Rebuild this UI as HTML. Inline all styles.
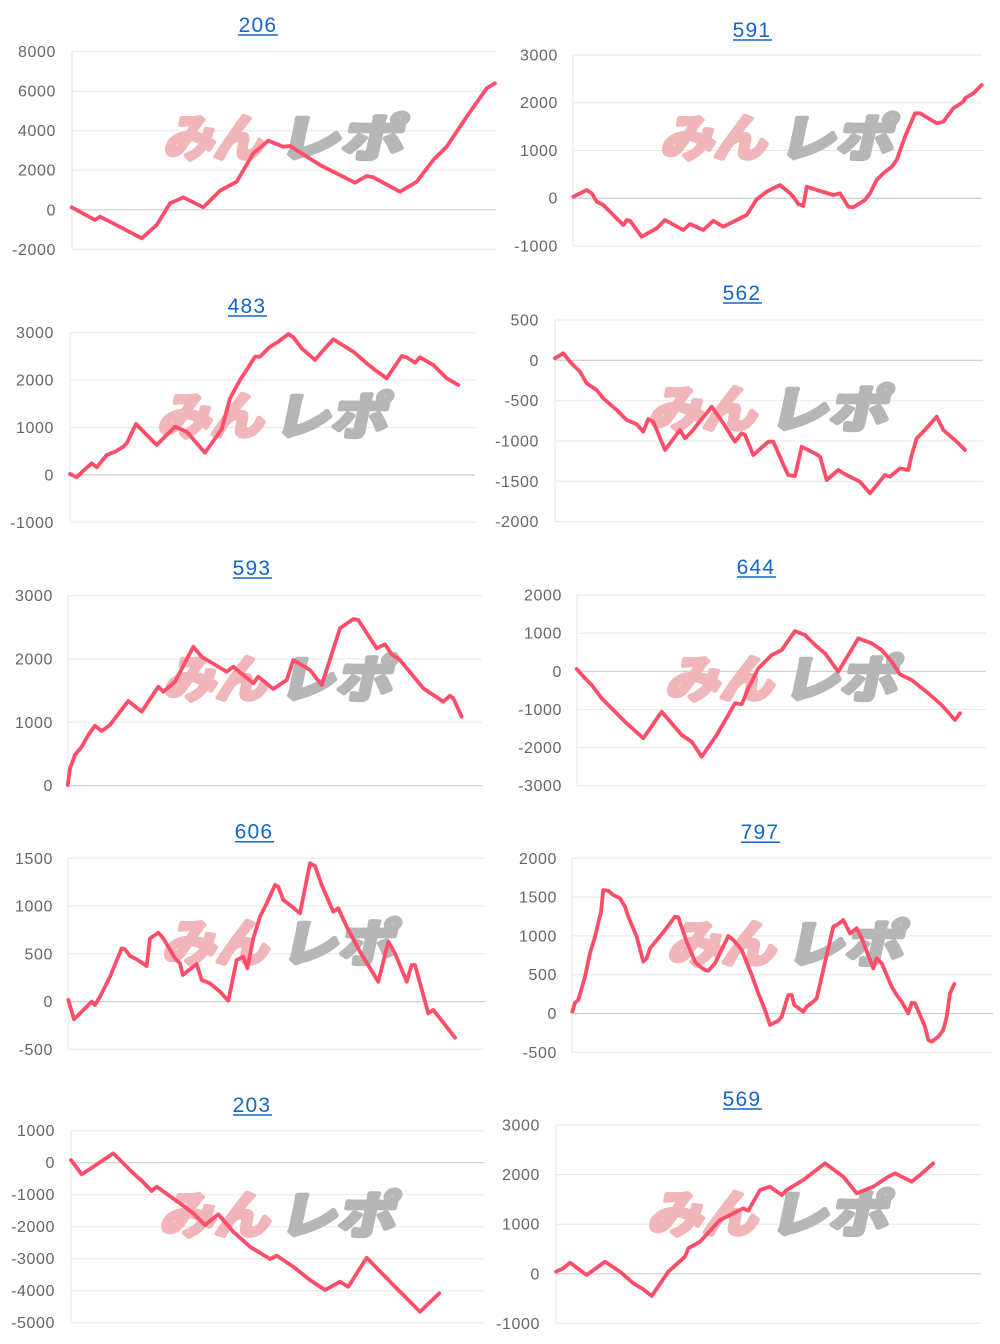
<!DOCTYPE html>
<html>
<head>
<meta charset="utf-8">
<style>
html,body{margin:0;padding:0;background:#fff;}
svg{display:block;}
.t{font-family:"Liberation Sans",Arial,sans-serif;font-size:16px;fill:#666;text-anchor:end;letter-spacing:0.6px;}
.h{font-family:"Liberation Sans",Arial,sans-serif;font-size:21px;fill:#1466c9;text-anchor:middle;letter-spacing:1.2px;}
.g{stroke:#e8e8e8;stroke-width:1;}
.z{stroke:#cdcdcd;stroke-width:1.2;}
.ax{stroke:#e4e4e4;stroke-width:1;}
.ul{stroke:#1466c9;stroke-width:1.5;}
.s{fill:none;stroke:#ff4d6a;stroke-width:3.8;stroke-linejoin:round;stroke-linecap:round;}
.wp{font-family:"Liberation Sans","Noto Sans CJK JP",sans-serif;font-weight:bold;font-size:50px;fill:#f0b6b9;stroke:#f0b6b9;stroke-width:4.5;stroke-linejoin:round;}
.wg{font-family:"Liberation Sans","Noto Sans CJK JP",sans-serif;font-weight:bold;font-size:50px;fill:#b6b6b6;stroke:#b6b6b6;stroke-width:4.5;stroke-linejoin:round;}
</style>
</head>
<body>
<svg width="1000" height="1344" viewBox="0 0 1000 1344" xmlns="http://www.w3.org/2000/svg">
<rect width="1000" height="1344" fill="#fff"/>

<!-- ===== Chart 1 : 206 ===== -->
<g>
<text class="h" x="258" y="32">206</text><line class="ul" x1="238" y1="35" x2="278" y2="35"/>
<line class="g" x1="72" y1="51.7" x2="496" y2="51.7"/>
<line class="g" x1="72" y1="91.2" x2="496" y2="91.2"/>
<line class="g" x1="72" y1="130.7" x2="496" y2="130.7"/>
<line class="g" x1="72" y1="170.2" x2="496" y2="170.2"/>
<line class="z" x1="72" y1="209.8" x2="496" y2="209.8"/>
<line class="g" x1="72" y1="249.3" x2="496" y2="249.3"/>
<line class="ax" x1="72" y1="51.7" x2="72" y2="249.3"/>
<text class="t" x="56" y="57.2">8000</text>
<text class="t" x="56" y="96.7">6000</text>
<text class="t" x="56" y="136.2">4000</text>
<text class="t" x="56" y="175.7">2000</text>
<text class="t" x="56" y="215.3">0</text>
<text class="t" x="56" y="254.8">-2000</text>
<g transform="translate(163,156) skewX(-12)"><text class="wp" x="0" y="0" textLength="100" lengthAdjust="spacingAndGlyphs">みん</text><text class="wg" x="114" y="0" textLength="126" lengthAdjust="spacingAndGlyphs">レポ</text></g>
<polyline class="s" points="71.7,207.3 95,220 100,216.7 110,221.7 141.7,238.3 156.7,225 170,203.3 183.3,197.3 203.3,207.3 220,190.7 236.7,181.7 253.3,153.3 268.3,140.7 283.3,146.7 290,146 320,165 355,182.7 366.7,176 373.3,177.3 400,191.7 416.7,181.7 433.3,160 446.7,146.7 466.7,116.7 486.7,88.3 495,83.3"/>
</g>

<!-- ===== Chart 2 : 591 ===== -->
<g>
<text class="h" x="752" y="37">591</text><line class="ul" x1="733" y1="40" x2="772" y2="40"/>
<line class="g" x1="573" y1="55" x2="982" y2="55"/>
<line class="g" x1="573" y1="102.75" x2="982" y2="102.75"/>
<line class="g" x1="573" y1="150.5" x2="982" y2="150.5"/>
<line class="z" x1="573" y1="198.25" x2="982" y2="198.25"/>
<line class="g" x1="573" y1="246" x2="982" y2="246"/>
<line class="ax" x1="573" y1="55" x2="573" y2="246"/>
<text class="t" x="558" y="60.5">3000</text>
<text class="t" x="558" y="108.2">2000</text>
<text class="t" x="558" y="156">1000</text>
<text class="t" x="558" y="203.7">0</text>
<text class="t" x="558" y="251.5">-1000</text>
<g transform="translate(660,156) skewX(-12)"><text class="wp" x="0" y="0" textLength="106" lengthAdjust="spacingAndGlyphs">みん</text><text class="wg" x="118" y="0" textLength="115" lengthAdjust="spacingAndGlyphs">レポ</text></g>
<polyline class="s" points="573.3,196.7 586.7,190 591.7,193.3 596.7,201.7 603.3,205 610,211.7 623.3,225 626.7,220 630,220.7 641.7,236.7 656.7,228.3 665,220 683.3,230 690,224 703.3,230 713.3,220.7 723.3,226.7 733.3,221.7 746.7,215 756.7,199.3 766.7,191.7 780,185 790,193.3 793.3,196.7 798.3,204 803.3,206 806.7,186.7 816.7,190 833.3,195 840,193.3 848.3,206.7 853.3,207.3 865,200 870,193.3 876.7,180 883.3,173.3 891.7,166.7 896.7,160 905,136.7 915,113.3 920,113.3 936.7,123.3 943.3,121.7 953.3,108.3 963.3,101.7 965,98.3 973.3,93.3 981.7,85"/>
</g>

<!-- ===== Chart 3 : 483 ===== -->
<g>
<text class="h" x="247" y="313">483</text><line class="ul" x1="228" y1="316" x2="267" y2="316"/>
<line class="g" x1="70" y1="332.7" x2="475" y2="332.7"/>
<line class="g" x1="70" y1="380.1" x2="475" y2="380.1"/>
<line class="g" x1="70" y1="427.5" x2="475" y2="427.5"/>
<line class="z" x1="70" y1="474.9" x2="475" y2="474.9"/>
<line class="g" x1="70" y1="522.3" x2="475" y2="522.3"/>
<line class="ax" x1="70" y1="332.7" x2="70" y2="522.3"/>
<text class="t" x="54" y="338.2">3000</text>
<text class="t" x="54" y="385.6">2000</text>
<text class="t" x="54" y="433">1000</text>
<text class="t" x="54" y="480.4">0</text>
<text class="t" x="54" y="527.8">-1000</text>
<g transform="translate(157,434) skewX(-12)"><text class="wp" x="0" y="0" textLength="106" lengthAdjust="spacingAndGlyphs">みん</text><text class="wg" x="116" y="0" textLength="114" lengthAdjust="spacingAndGlyphs">レポ</text></g>
<polyline class="s" points="70,474 76.7,477.3 85,469.3 91.7,463.3 96.7,467.3 106.7,455 115,451.7 123.3,446.7 126.7,443.3 136,424 156.7,445 175,426.7 186.7,431.7 205,452.7 221.7,429.3 230,398.3 240,380 248.3,367.3 255,356.7 260,356.7 270,346.7 278.3,341.7 288.3,334 293.3,337.3 301.7,348.3 315,360 325,348.3 333.3,339.3 353.3,351.7 366.7,363.3 375,370 386.7,378.3 401.7,356 406.7,357.3 415,362.7 420,357.3 433.3,365 446.7,378.3 458.3,385"/>
</g>

<!-- ===== Chart 4 : 562 ===== -->
<g>
<text class="h" x="742" y="300">562</text><line class="ul" x1="723" y1="303" x2="762" y2="303"/>
<line class="g" x1="555" y1="320" x2="983" y2="320"/>
<line class="z" x1="555" y1="360.3" x2="983" y2="360.3"/>
<line class="g" x1="555" y1="400.7" x2="983" y2="400.7"/>
<line class="g" x1="555" y1="441" x2="983" y2="441"/>
<line class="g" x1="555" y1="481.3" x2="983" y2="481.3"/>
<line class="g" x1="555" y1="521.7" x2="983" y2="521.7"/>
<line class="ax" x1="555" y1="320" x2="555" y2="521.7"/>
<text class="t" x="539" y="325.5">500</text>
<text class="t" x="539" y="365.8">0</text>
<text class="t" x="539" y="406.2">-500</text>
<text class="t" x="539" y="446.5">-1000</text>
<text class="t" x="539" y="486.8">-1500</text>
<text class="t" x="539" y="527.2">-2000</text>
<g transform="translate(648,427) skewX(-12)"><text class="wp" x="0" y="0" textLength="108" lengthAdjust="spacingAndGlyphs">みん</text><text class="wg" x="120" y="0" textLength="120" lengthAdjust="spacingAndGlyphs">レポ</text></g>
<polyline class="s" points="555,358.3 563.3,353.3 570,361.7 580,371.7 586.7,383.3 596.7,390 603.3,398.3 616.7,410 626.7,420 636.7,424.3 643.3,431.7 648.3,419 653.3,421.7 665,450 680,430 685,438.3 691.7,431.7 711.7,406.7 723.3,423.3 735,441.7 741.7,433.3 745,435 753.3,455 768.3,441.7 773.3,441.7 785,468.3 788.3,475 795,476 801.7,446.7 816.7,454.3 820,456.7 826.7,480 838.3,470 843.3,473.3 860,481.7 870,493.3 885,475 890,476.7 900,468.3 908.3,470 911.7,455 916.7,438.3 923.3,431.7 936.7,416.7 943.3,430 956.7,441.7 965,450"/>
</g>

<!-- ===== Chart 5 : 593 ===== -->
<g>
<text class="h" x="252" y="575">593</text><line class="ul" x1="233" y1="578" x2="272" y2="578"/>
<line class="g" x1="68" y1="595.7" x2="482" y2="595.7"/>
<line class="g" x1="68" y1="659" x2="482" y2="659"/>
<line class="g" x1="68" y1="722.3" x2="482" y2="722.3"/>
<line class="z" x1="68" y1="785.7" x2="482" y2="785.7"/>
<line class="ax" x1="68" y1="595.7" x2="68" y2="785.7"/>
<text class="t" x="53" y="601.2">3000</text>
<text class="t" x="53" y="664.5">2000</text>
<text class="t" x="53" y="727.8">1000</text>
<text class="t" x="53" y="791.2">0</text>
<g transform="translate(163,697) skewX(-12)"><text class="wp" x="0" y="0" textLength="104" lengthAdjust="spacingAndGlyphs">みん</text><text class="wg" x="115" y="0" textLength="114" lengthAdjust="spacingAndGlyphs">レポ</text></g>
<polyline class="s" points="67.7,785 70,768.3 75,755 81.7,746.7 88.3,735 95,725.7 101.7,731 110,725 120,711.7 128.3,701 141.7,711.7 158.3,686.7 163.3,691.7 175,681.7 193.3,646.7 201.7,656.7 226.7,671.7 233.3,666.7 253.3,683.3 258.3,676.7 273.3,689 286.7,680 293.3,660 310,670 321.7,685 340,628.3 353.3,619 358.3,620 376.7,648.3 385,644.3 391.7,654.3 400,660 423.3,688.3 433.3,695 443.3,701.7 450,695.7 453.3,698.3 461.7,716.7"/>
</g>

<!-- ===== Chart 6 : 644 ===== -->
<g>
<text class="h" x="756" y="574">644</text><line class="ul" x1="737" y1="577" x2="776" y2="577"/>
<line class="g" x1="577" y1="595" x2="986" y2="595"/>
<line class="g" x1="577" y1="633.1" x2="986" y2="633.1"/>
<line class="z" x1="577" y1="671.3" x2="986" y2="671.3"/>
<line class="g" x1="577" y1="709.4" x2="986" y2="709.4"/>
<line class="g" x1="577" y1="747.5" x2="986" y2="747.5"/>
<line class="g" x1="577" y1="785.7" x2="986" y2="785.7"/>
<line class="ax" x1="577" y1="595" x2="577" y2="785.7"/>
<text class="t" x="562" y="600.5">2000</text>
<text class="t" x="562" y="638.6">1000</text>
<text class="t" x="562" y="676.8">0</text>
<text class="t" x="562" y="714.9">-1000</text>
<text class="t" x="562" y="753">-2000</text>
<text class="t" x="562" y="791.2">-3000</text>
<g transform="translate(665,697) skewX(-12)"><text class="wp" x="0" y="0" textLength="108" lengthAdjust="spacingAndGlyphs">みん</text><text class="wg" x="117" y="0" textLength="115" lengthAdjust="spacingAndGlyphs">レポ</text></g>
<polyline class="s" points="576.7,669 585,678.3 591.7,685 601.7,698.3 625,721.7 643.3,738.3 661.7,711.7 681.7,735 691.7,741.7 701.7,756.7 716.7,735 728.3,715 735,703.3 741.7,704.3 748.3,688.3 758.3,668.3 771.7,655 781.7,650 795,631 805,635 815,645 825,653.3 838.3,671.7 858.3,638.3 871.7,643.3 881.7,650 891.7,661.7 900,674.3 911.7,680 928.3,693.3 941.7,705 955,720 960,713.3"/>
</g>

<!-- ===== Chart 7 : 606 ===== -->
<g>
<text class="h" x="254" y="838.5">606</text><line class="ul" x1="235" y1="841.7" x2="274" y2="841.7"/>
<line class="g" x1="68" y1="858.3" x2="485" y2="858.3"/>
<line class="g" x1="68" y1="906" x2="485" y2="906"/>
<line class="g" x1="68" y1="953.8" x2="485" y2="953.8"/>
<line class="z" x1="68" y1="1001.6" x2="485" y2="1001.6"/>
<line class="g" x1="68" y1="1049.3" x2="485" y2="1049.3"/>
<line class="ax" x1="68" y1="858.3" x2="68" y2="1049.3"/>
<text class="t" x="53" y="863.8">1500</text>
<text class="t" x="53" y="911.5">1000</text>
<text class="t" x="53" y="959.3">500</text>
<text class="t" x="53" y="1007.1">0</text>
<text class="t" x="53" y="1054.8">-500</text>
<g transform="translate(162,961) skewX(-12)"><text class="wp" x="0" y="0" textLength="106" lengthAdjust="spacingAndGlyphs">みん</text><text class="wg" x="118" y="0" textLength="115" lengthAdjust="spacingAndGlyphs">レポ</text></g>
<polyline class="s" points="68.3,1000 74,1019.3 81.7,1011.7 91.7,1001.7 95,1005 100,996.7 110,976.7 121.7,948.3 125,949.3 130,956 136.7,959.3 146.7,966 150,938.3 158.3,932.7 163.3,938.3 175,958.3 180,963.3 182.7,975 196.7,964 201.7,980 210,983.3 220,991.7 228.3,1000.7 236.7,960 243.3,956.7 247.3,968.3 253.3,938.3 260,916.7 266.7,903.3 275,885 278.3,886.7 283.3,900 290,905 300,913.3 310,863.3 315,866 321.7,885 333.3,911.7 338.3,908.3 346.7,926.7 360,951.7 378.3,981.7 388.3,941.7 395,953.3 406.7,981.7 411.7,965 415,965 428.3,1013.3 433.3,1010 440,1018.3 455,1037.7"/>
</g>

<!-- ===== Chart 8 : 797 ===== -->
<g>
<text class="h" x="760" y="839">797</text><line class="ul" x1="741" y1="842.3" x2="780" y2="842.3"/>
<line class="g" x1="572" y1="858.3" x2="993" y2="858.3"/>
<line class="g" x1="572" y1="897.1" x2="993" y2="897.1"/>
<line class="g" x1="572" y1="935.9" x2="993" y2="935.9"/>
<line class="g" x1="572" y1="974.7" x2="993" y2="974.7"/>
<line class="z" x1="572" y1="1013.5" x2="993" y2="1013.5"/>
<line class="g" x1="572" y1="1052.3" x2="993" y2="1052.3"/>
<line class="ax" x1="572" y1="858.3" x2="572" y2="1052.3"/>
<text class="t" x="557" y="863.8">2000</text>
<text class="t" x="557" y="902.6">1500</text>
<text class="t" x="557" y="941.4">1000</text>
<text class="t" x="557" y="980.2">500</text>
<text class="t" x="557" y="1019">0</text>
<text class="t" x="557" y="1057.8">-500</text>
<g transform="translate(667,962) skewX(-12)"><text class="wp" x="0" y="0" textLength="108" lengthAdjust="spacingAndGlyphs">みん</text><text class="wg" x="118" y="0" textLength="118" lengthAdjust="spacingAndGlyphs">レポ</text></g>
<polyline class="s" points="572.3,1011.7 575,1002.7 578.3,1000 585,976.7 590,953.3 595,936.7 601,911.7 603.3,890 608.3,890.7 613.3,895 620,898.3 625,906.7 628.3,916.7 636.7,936.7 643.3,961.7 646.7,958.3 650,948.3 658.3,938.3 665,930 675,916.7 678.3,917.3 686.7,941.7 695,961.7 700,966.7 705,970 708.3,970.7 715,963.3 728.3,936 733.3,940 741.7,950 751.7,975 758.3,993.3 765,1010 770,1025 778.3,1020.7 781.7,1016.7 788.3,995 791.7,995 794.3,1005 803.3,1011.7 806.7,1006.7 813.3,1001.7 816.7,998.3 821.7,976.7 833.3,926.7 838.3,924 843.3,920 850,933.3 856.7,928.3 861.7,938.3 873.3,968.3 876.7,958.3 881.7,963.3 891.7,986.7 896.7,995 901.7,1001.7 908.3,1013.3 911.7,1002.7 915,1003.3 925,1026.7 928.3,1040 931.7,1041.7 938.3,1036.7 943.3,1030 946.7,1016.7 950,993.3 954.3,984"/>
</g>

<!-- ===== Chart 9 : 203 ===== -->
<g>
<text class="h" x="252" y="1112">203</text><line class="ul" x1="233" y1="1115" x2="272" y2="1115"/>
<line class="g" x1="71" y1="1130.7" x2="484" y2="1130.7"/>
<line class="z" x1="71" y1="1162.7" x2="484" y2="1162.7"/>
<line class="g" x1="71" y1="1194.7" x2="484" y2="1194.7"/>
<line class="g" x1="71" y1="1226.7" x2="484" y2="1226.7"/>
<line class="g" x1="71" y1="1258.7" x2="484" y2="1258.7"/>
<line class="g" x1="71" y1="1290.7" x2="484" y2="1290.7"/>
<line class="g" x1="71" y1="1322.7" x2="484" y2="1322.7"/>
<line class="ax" x1="71" y1="1130.7" x2="71" y2="1322.7"/>
<text class="t" x="55" y="1136.2">1000</text>
<text class="t" x="55" y="1168.2">0</text>
<text class="t" x="55" y="1200.2">-1000</text>
<text class="t" x="55" y="1232.2">-2000</text>
<text class="t" x="55" y="1264.2">-3000</text>
<text class="t" x="55" y="1296.2">-4000</text>
<text class="t" x="55" y="1328.2">-5000</text>
<g transform="translate(159,1233) skewX(-12)"><text class="wp" x="0" y="0" textLength="110" lengthAdjust="spacingAndGlyphs">みん</text><text class="wg" x="119" y="0" textLength="117" lengthAdjust="spacingAndGlyphs">レポ</text></g>
<polyline class="s" points="71,1160 81.7,1174.3 90,1169 113.3,1153.3 131.7,1171.7 143.3,1182.3 151.7,1191 156.7,1186.7 180,1203.3 193.3,1213.3 205,1225 218.3,1214.3 233.3,1231.7 250,1246.7 270,1259 276.7,1255.7 293.3,1266.7 310,1280 325,1290 340,1281.7 348.3,1286.7 366.7,1257.7 393.3,1285 420,1311.7 439.3,1293.3"/>
</g>

<!-- ===== Chart 10 : 569 ===== -->
<g>
<text class="h" x="742" y="1106">569</text><line class="ul" x1="723" y1="1109" x2="762" y2="1109"/>
<line class="g" x1="556" y1="1125" x2="981" y2="1125"/>
<line class="g" x1="556" y1="1174.6" x2="981" y2="1174.6"/>
<line class="g" x1="556" y1="1224.2" x2="981" y2="1224.2"/>
<line class="z" x1="556" y1="1273.8" x2="981" y2="1273.8"/>
<line class="g" x1="556" y1="1323.3" x2="981" y2="1323.3"/>
<line class="ax" x1="556" y1="1125" x2="556" y2="1323.3"/>
<text class="t" x="540" y="1130.5">3000</text>
<text class="t" x="540" y="1180.1">2000</text>
<text class="t" x="540" y="1229.7">1000</text>
<text class="t" x="540" y="1279.3">0</text>
<text class="t" x="540" y="1328.8">-1000</text>
<g transform="translate(647,1232) skewX(-12)"><text class="wp" x="0" y="0" textLength="110" lengthAdjust="spacingAndGlyphs">みん</text><text class="wg" x="121" y="0" textLength="120" lengthAdjust="spacingAndGlyphs">レポ</text></g>
<polyline class="s" points="556,1271.7 563.3,1268.3 570,1262.7 586.7,1275 605,1261.7 620,1271.7 633.3,1283.3 643.3,1289.3 651.7,1296 668.3,1271.7 685,1256.7 688.3,1248.3 700,1241.7 720,1220 726.7,1216.7 743.3,1208.3 748.3,1210.7 760,1190 770,1186.7 781.7,1195 786.7,1190 803.3,1180 825,1163.3 843.3,1176.7 856.7,1193.3 873.3,1186.7 888.3,1176.7 895,1173.3 911.7,1181.7 920,1175 933.3,1163.3"/>
</g>

</svg>
</body>
</html>
